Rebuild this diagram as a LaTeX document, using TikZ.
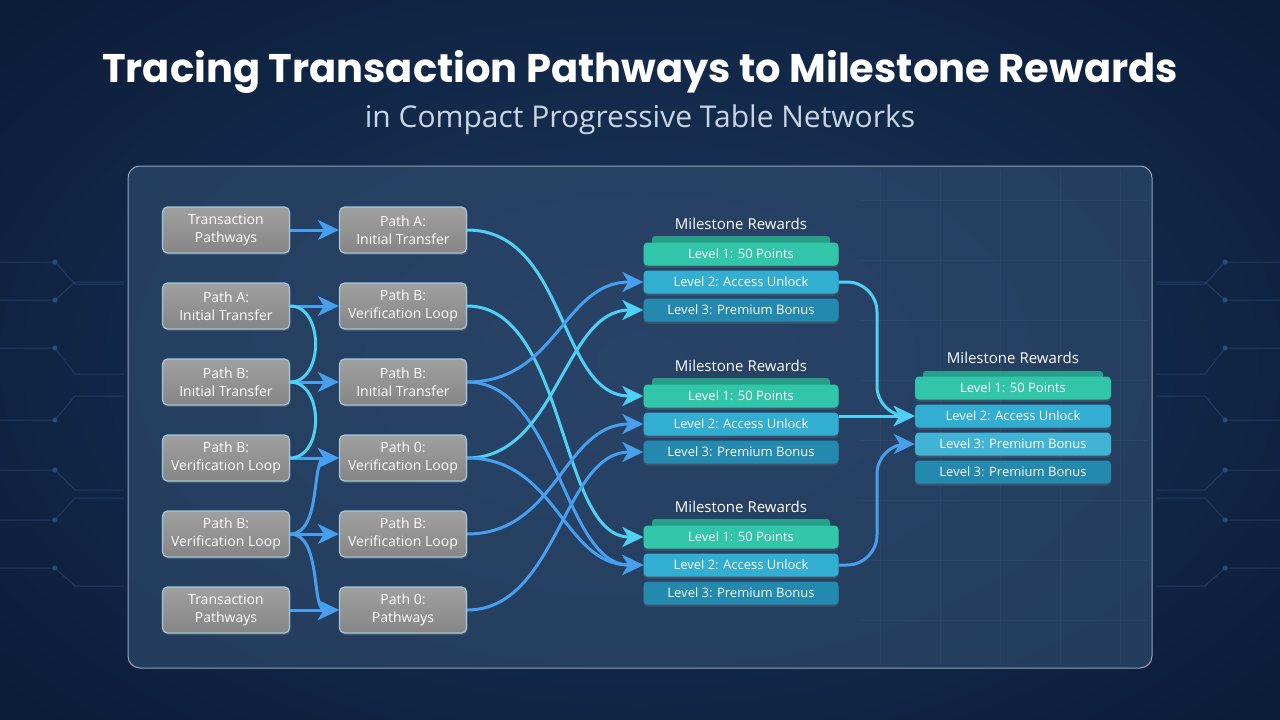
\documentclass[tikz,border=0pt]{standalone}
\usepackage{fontspec}
\setmainfont{Open Sans}
\newfontfamily\titlefont{Poppins}
\usetikzlibrary{arrows.meta,positioning,shadows}
\definecolor{bgdark}{HTML}{0B1C38}
\definecolor{bgmid}{HTML}{1C3960}
\definecolor{panelfill}{HTML}{2C4769}
\definecolor{paneledge}{HTML}{8FA3BA}
\definecolor{boxtop}{HTML}{A0A0A0}
\definecolor{boxbot}{HTML}{868686}
\definecolor{boxedge}{HTML}{A6C6DC}
\definecolor{flowcyan}{HTML}{4FD0F5}
\definecolor{flowblue}{HTML}{479FEE}
\definecolor{lvlone}{HTML}{31C6AA}
\definecolor{lvltwo}{HTML}{31AED2}
\definecolor{lvlthree}{HTML}{2389AE}
\definecolor{subtext}{HTML}{C8D5E5}
\definecolor{circline}{HTML}{2B4C78}

\begin{document}
\begin{tikzpicture}[x=1pt, y=-1pt,
  pathbox/.style={draw=boxedge, line width=1.2pt, rounded corners=5pt,
    top color=boxtop, bottom color=boxbot, minimum width=127pt,
    minimum height=46pt, text=white, align=center, inner sep=2pt,
    font=\fontsize{14}{18}\selectfont,
    drop shadow={opacity=0.35, shadow xshift=1pt, shadow yshift=-2pt}},
  lvlbox/.style={rounded corners=4pt, minimum width=195pt, minimum height=23pt,
    text=white, inner sep=1pt, font=\fontsize{13}{14}\selectfont,
    drop shadow={opacity=0.3, shadow xshift=0pt, shadow yshift=-2pt}},
  msttl/.style={text=white, font=\fontsize{15}{16}\selectfont},
  cyanflow/.style={draw=flowcyan, line width=3pt},
  blueflow/.style={draw=flowblue, line width=3pt},
  arrowed/.style={-{Stealth[length=21pt,width=20pt,inset=6pt]}},
  circ/.style={draw=circline, line width=1pt, opacity=0.6},
  gridln/.style={draw=white, line width=0.6pt, opacity=0.035}]
\useasboundingbox (0,0) rectangle (1280,720);

% Background
\shade[inner color=bgmid, outer color=bgdark] (-200,-150) rectangle (1480,870);

% Circuit traces at the sides
\foreach \yy/\dd in {262/22, 300/-18, 348/26, 420/-24, 470/20, 520/-22, 568/18} {
  \draw[circ] (0,\yy) -- (55,\yy) -- (75,\yy+\dd) -- (124,\yy+\dd);
  \fill[circline] (55,\yy) circle (2.5);
  \draw[circ] (1280,\yy) -- (1225,\yy) -- (1205,\yy+\dd) -- (1156,\yy+\dd);
  \fill[circline] (1225,\yy) circle (2.5);
}

% Panel
\fill[panelfill, opacity=0.75, rounded corners=12pt] (128,166) rectangle (1152,668);
\foreach \gx in {880,940,1000,1060,1120}
  \draw[gridln] (\gx,170) -- (\gx,664);
\foreach \gy in {200,260,320,380,440,500,560,620}
  \draw[gridln] (860,\gy) -- (1148,\gy);
\draw[paneledge, line width=1pt, rounded corners=12pt] (128,166) rectangle (1152,668);

% Title
\node[text=white, font=\titlefont\bfseries\fontsize{40}{46}\selectfont] (title) at (640,72)
  {Tracing Transaction Pathways to Milestone Rewards};
\node[text=subtext, font=\fontsize{30}{34}\selectfont] (subtitle) at (640,120)
  {in Compact Progressive Table Networks};

% Left column
\foreach \i/\txt in {1/{Transaction\\Pathways}, 2/{Path A:\\Initial Transfer},
    3/{Path B:\\Initial Transfer}, 4/{Path B:\\Verification Loop},
    5/{Path B:\\Verification Loop}, 6/{Transaction\\Pathways}}
  \node[pathbox] (L\i) at (226,154+76*\i) {\txt};

% Middle column
\foreach \i/\txt in {1/{Path A:\\Initial Transfer}, 2/{Path B:\\Verification Loop},
    3/{Path B:\\Initial Transfer}, 4/{Path 0:\\Verification Loop},
    5/{Path B:\\Verification Loop}, 6/{Path 0:\\Pathways}}
  \node[pathbox] (M\i) at (403,154+76*\i) {\txt};

% Milestone groups
\foreach \g/\yy in {1/254, 2/396, 3/537} {
  \node[msttl] (g\g t) at (741,\yy-30) {Milestone Rewards};
  \fill[lvlone!80!black, rounded corners=3pt] (652,\yy-18) rectangle (830,\yy);
  \node[lvlbox, fill=lvlone] (g\g a) at (741,\yy) {Level 1: 50 Points};
  \node[lvlbox, fill=lvltwo] (g\g b) at (741,\yy+28) {Level 2: Access Unlock};
  \node[lvlbox, fill=lvlthree] (g\g c) at (741,\yy+56) {Level 3: Premium Bonus};
}

% Final rewards
\node[msttl] (rt) at (1013,358) {Milestone Rewards};
\fill[lvlone!80!black, rounded corners=3pt] (923,371) rectangle (1103,388);
\node[lvlbox, fill=lvlone, minimum width=196pt] (r1) at (1013,388) {Level 1: 50 Points};
\node[lvlbox, fill=lvltwo, minimum width=196pt] (r2) at (1013,416) {Level 2: Access Unlock};
\node[lvlbox, fill=lvltwo!92!white, minimum width=196pt] (r3) at (1013,444) {Level 3: Premium Bonus};
\node[lvlbox, fill=lvlthree, minimum width=196pt] (r4) at (1013,472) {Level 3: Premium Bonus};

% Left to middle
\foreach \i in {1,...,6}
  \draw[blueflow, arrowed] (L\i) -- (M\i);
\draw[cyanflow] (L2.east) .. controls +(34,0) and +(34,0) .. (L3.east);
\draw[cyanflow] (L3.east) .. controls +(34,0) and +(34,0) .. (L4.east);
\draw[blueflow, arrowed] (L5.east) .. controls +(32,0) and +(-28,0) .. (M4.west);
\draw[blueflow, arrowed] (L5.east) .. controls +(32,0) and +(-28,0) .. (M6.west);

% Middle to milestones
\draw[cyanflow, arrowed] (M1.east) .. controls +(100,0) and +(-85,0) .. (g2a.west);
\draw[cyanflow, arrowed] (M2.east) .. controls +(100,0) and +(-85,0) .. (g3a.west);
\draw[blueflow, arrowed] (M3.east) .. controls +(90,0) and +(-80,0) .. (g1b.west);
\draw[blueflow, arrowed] (M3.east) .. controls +(90,0) and +(-80,0) .. (g3b.west);
\draw[cyanflow, arrowed] (M4.east) .. controls +(90,0) and +(-80,0) .. (g1c.west);
\draw[blueflow, arrowed] (M4.east) .. controls +(90,0) and +(-80,0) .. (g3b.west);
\draw[blueflow, arrowed] (M5.east) .. controls +(90,0) and +(-80,0) .. (g2b.west);
\draw[blueflow, arrowed] (M6.east) .. controls +(90,0) and +(-80,0) .. (g2c.west);

% Milestones to final rewards
\coordinate (k1) at (877,416);
\coordinate (k2) at (877,444);
\draw[cyanflow, arrowed, rounded corners=30pt] (g1b.east) -| (k1) -- (r2.west);
\draw[cyanflow, arrowed] (g2b.east |- r2.west) -- (r2.west);
\draw[blueflow, arrowed, rounded corners=30pt] (g3b.east) -| (k2) -- (r3.west);

\end{tikzpicture}
\end{document}
